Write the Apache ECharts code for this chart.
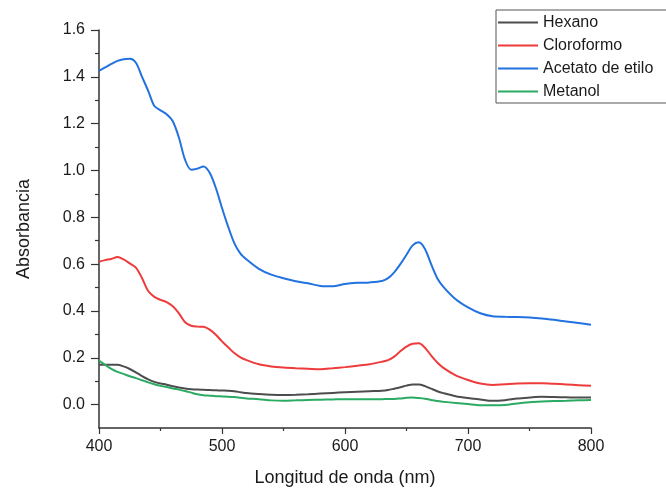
<!DOCTYPE html>
<html>
	<head>
		<meta charset="utf-8">
		<title></title>
		<script src="https://cdn.jsdelivr.net/npm/echarts@6/dist/echarts.min.js"></script>
	</head>
	<body style="margin:0;">
		<div id="main" style="width: 666px;height:488px;"></div>
		<script type="text/javascript">
			// longitud de onda (nm)
			var wavelength = [400,405,410,415,420,425,430,435,440,445,450,455,460,465,470,475,480,485,490,495,500,505,510,515,520,530,540,550,560,570,580,590,600,610,620,630,635,640,645,650,655,660,665,670,675,680,690,700,710,720,730,740,750,760,770,780,790,800];

			var hexano = [0.17,0.17,0.17,0.17,0.163,0.152,0.138,0.122,0.108,0.097,0.09,0.085,0.078,0.073,0.069,0.066,0.064,0.063,0.062,0.061,0.06,0.059,0.057,0.053,0.049,0.045,0.042,0.041,0.042,0.044,0.047,0.05,0.053,0.055,0.057,0.059,0.062,0.068,0.074,0.081,0.086,0.086,0.079,0.068,0.057,0.049,0.036,0.028,0.022,0.016,0.019,0.026,0.03,0.033,0.032,0.031,0.03,0.03];

			var cloroformo = [0.61,0.617,0.622,0.63,0.62,0.603,0.585,0.54,0.485,0.46,0.447,0.438,0.42,0.39,0.352,0.337,0.333,0.332,0.32,0.298,0.27,0.245,0.22,0.202,0.19,0.172,0.163,0.158,0.155,0.153,0.151,0.155,0.16,0.166,0.172,0.183,0.19,0.205,0.228,0.248,0.26,0.262,0.243,0.21,0.18,0.157,0.125,0.105,0.09,0.084,0.087,0.09,0.091,0.091,0.089,0.086,0.083,0.08];

			var acetato = [1.425,1.44,1.455,1.468,1.475,1.477,1.46,1.40,1.34,1.275,1.257,1.24,1.21,1.14,1.045,1.003,1.008,1.017,0.99,0.925,0.84,0.76,0.69,0.645,0.62,0.58,0.555,0.54,0.527,0.518,0.507,0.505,0.515,0.52,0.522,0.528,0.54,0.565,0.6,0.64,0.68,0.693,0.665,0.60,0.54,0.503,0.45,0.415,0.39,0.377,0.375,0.374,0.372,0.368,0.362,0.355,0.348,0.341];

			var metanol = [0.188,0.17,0.153,0.14,0.131,0.121,0.113,0.104,0.095,0.087,0.08,0.075,0.069,0.064,0.058,0.051,0.044,0.04,0.038,0.036,0.035,0.034,0.032,0.029,0.026,0.023,0.018,0.016,0.018,0.02,0.021,0.022,0.023,0.023,0.023,0.023,0.024,0.024,0.026,0.029,0.03,0.028,0.025,0.02,0.015,0.012,0.007,0.002,-0.003,-0.003,-0.002,0.005,0.01,0.013,0.015,0.016,0.018,0.02];

			var yMajor = [0, 0.2, 0.4, 0.6, 0.8, 1.0, 1.2, 1.4, 1.6];
			var yMinor = [0.1, 0.3, 0.5, 0.7, 0.9, 1.1, 1.3, 1.5];

			function pares(ys) {
				return wavelength.map(function (x, i) { return [x, ys[i]]; });
			}

			var fuente = '"Liberation Sans", Arial, sans-serif';
			var myChart = echarts.init(document.getElementById('main'));

			var serie = function (nombre, datos) {
				return {
					name: nombre,
					type: 'line',
					data: pares(datos),
					symbol: 'none',
					smooth: 0.3,
					lineStyle: { width: 2 }
				};
			};

			var option = {
				animation: false,
				color: ['#4d4d4d', '#ee3b3b', '#2272e0', '#2aaa62'],
				grid: { left: 99, right: 75, top: 30, bottom: 60, outerBoundsMode: 'none', containLabel: false },
				legend: {
					orient: 'vertical',
					left: 496,
					top: 10,
					icon: 'rect',
					itemWidth: 40,
					itemHeight: 2,
					itemGap: 7,
					padding: [4.5, 30, 3.5, 2],
					borderColor: '#555',
					borderWidth: 1,
					textStyle: { fontSize: 16, lineHeight: 15, color: '#1a1a1a', fontFamily: fuente },
					data: ['Hexano', 'Cloroformo', 'Acetato de etilo', 'Metanol']
				},
				xAxis: {
					type: 'value',
					min: 400,
					max: 800,
					interval: 100,
					name: 'Longitud de onda (nm)',
					nameLocation: 'middle',
					nameGap: 41,
					nameTextStyle: { fontSize: 18, color: '#1a1a1a', fontFamily: fuente },
					axisLine: { onZero: false, lineStyle: { color: '#333', width: 1.5 } },
					axisTick: { length: 6, lineStyle: { color: '#333', width: 1.2 } },
					minorTick: { show: true, splitNumber: 2, length: 3, lineStyle: { color: '#333', width: 1.2 } },
					axisLabel: { fontSize: 16, margin: 11, color: '#1a1a1a', fontFamily: fuente },
					splitLine: { show: false }
				},
				yAxis: [{
					type: 'value',
					min: -0.1,
					max: 1.6,
					name: 'Absorbancia',
					nameLocation: 'middle',
					nameGap: 66,
					nameTextStyle: { fontSize: 18, color: '#1a1a1a', fontFamily: fuente },
					axisLine: { show: true, onZero: false, lineStyle: { color: '#333', width: 1.5 } },
					axisTick: { length: 8, customValues: yMajor, lineStyle: { color: '#333', width: 1.2 } },
					axisLabel: {
						fontSize: 16, margin: 14, color: '#1a1a1a', fontFamily: fuente,
						customValues: yMajor,
						formatter: function (v) { return v.toFixed(1); }
					},
					splitLine: { show: false }
				}, {
					type: 'value',
					position: 'left',
					min: -0.1,
					max: 1.6,
					axisLine: { show: false, onZero: false },
					axisTick: { show: true, length: 4, customValues: yMinor, lineStyle: { color: '#333', width: 1.2 } },
					axisLabel: { show: false },
					splitLine: { show: false }
				}],
				series: [
					serie('Hexano', hexano),
					serie('Cloroformo', cloroformo),
					serie('Acetato de etilo', acetato),
					serie('Metanol', metanol)
				]
			};

			myChart.setOption(option);
		</script>
	</body>
</html>
